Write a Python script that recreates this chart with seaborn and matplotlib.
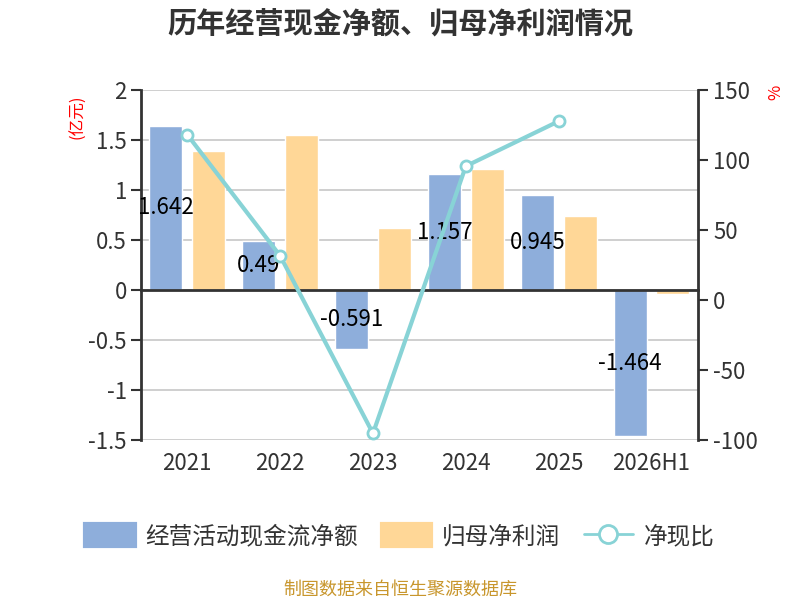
import numpy as np
import pandas as pd
import seaborn as sns
import matplotlib.pyplot as plt
from matplotlib.patches import Patch
from matplotlib.lines import Line2D

# Data
years = ['2021', '2022', '2023', '2024', '2025', '2026H1']
cash_flow = [1.642, 0.49, -0.591, 1.157, 0.945, -1.464]   # 经营活动现金流净额 (亿元)
net_profit = [1.39, 1.55, 0.62, 1.21, 0.74, -0.04]         # 归母净利润 (亿元)
cash_ratio = [118.1, 31.6, -95.3, 95.6, 127.7, np.nan]     # 净现比 (%)

blue = '#8eaedb'
orange = '#ffd797'
teal = '#88d3d6'
dark = '#333333'

sns.set_style('white')
plt.rcParams['font.family'] = ['Noto Sans CJK SC', 'DejaVu Sans']
plt.rcParams['axes.unicode_minus'] = False

df = pd.DataFrame({
    'year': years * 2,
    'value': cash_flow + net_profit,
    'kind': ['经营活动现金流净额'] * len(years) + ['归母净利润'] * len(years),
})

fig = plt.figure(figsize=(8, 6), dpi=100)
ax = fig.add_axes([0.176, 0.2667, 0.6965, 0.5833])

sns.barplot(data=df, x='year', y='value', hue='kind', palette=[blue, orange],
            saturation=1, width=0.92, gap=0.23, legend=False, ax=ax)

# labels in the middle of the cash flow bars
ax.bar_label(ax.containers[0], fmt='%g', label_type='center', fontsize=16, color='black')

ax.set_ylim(-1.5, 2)
ax.set_yticks(np.arange(-1.5, 2.01, 0.5))
ax.set_yticklabels(['%g' % v for v in np.arange(-1.5, 2.01, 0.5)])
ax.yaxis.grid(True, color='#cccccc', lw=1.3)
ax.set_axisbelow(True)
ax.set_xlabel('')
ax.set_ylabel('')
ax.spines['top'].set_visible(False)
ax.spines['right'].set_visible(False)
ax.spines['left'].set_color(dark)
ax.spines['left'].set_linewidth(2)
ax.spines['bottom'].set_position(('data', 0))
ax.spines['bottom'].set_color(dark)
ax.spines['bottom'].set_linewidth(2)
ax.tick_params(axis='y', length=7, width=1.5, pad=3, color=dark, labelsize=16,
               labelcolor=dark, direction='out')

# small ticks between categories on the zero line
ax.set_xticks(np.arange(-0.5, len(years), 1))
ax.set_xticklabels([])
ax.tick_params(axis='x', length=5, width=1.5, color=dark, direction='out')

# category names at the bottom of the plot area
sec = ax.secondary_xaxis('bottom')
sec.set_xticks(range(len(years)), years)
sec.tick_params(length=0, pad=9, labelsize=16, labelcolor=dark)
sec.spines['bottom'].set_visible(False)

# ratio line on the right axis
ax2 = ax.twinx()
sns.lineplot(x=np.arange(len(years)), y=cash_ratio, ax=ax2, color=teal, lw=3,
             marker='o', markersize=8, markerfacecolor='white',
             markeredgecolor=teal, markeredgewidth=2)
ax2.set_ylim(-100, 150)
ax2.set_yticks(np.arange(-100, 151, 50))
ax2.set_ylabel('')
ax2.grid(False)
for s in ['top', 'left', 'bottom']:
    ax2.spines[s].set_visible(False)
ax2.spines['right'].set_color(dark)
ax2.spines['right'].set_linewidth(2)
ax2.tick_params(axis='y', length=7, width=1.5, pad=4, color=dark, labelsize=16,
                labelcolor=dark, direction='out')

# keep the categorical range after the line plot autoscaled it
ax.set_xlim(-0.5, len(years) - 0.5)

fig.text(0.5, 1 - 23 / 600, '历年经营现金净额、归母净利润情况', ha='center', va='center',
         fontsize=21, fontweight='bold', color=dark)
fig.text(78 / 800, 1 - 117 / 600, '(亿元)', rotation=90, color='red', fontsize=12,
         ha='center', va='center')
fig.text(776 / 800, 1 - 92 / 600, '%', rotation=90, color='red', fontsize=12,
         ha='center', va='center')

handles = [
    Patch(facecolor=blue, edgecolor=blue, lw=3, joinstyle='round'),
    Patch(facecolor=orange, edgecolor=orange, lw=3, joinstyle='round'),
    Line2D([], [], color=teal, lw=2, marker='o', markersize=13,
           markerfacecolor='white', markeredgecolor=teal, markeredgewidth=2),
]
fig.legend(handles, ['经营活动现金流净额', '归母净利润', '净现比'], loc='center',
           bbox_to_anchor=(0.5, 1 - 536 / 600), ncol=3, frameon=False, fontsize=17,
           handlelength=2.1, handleheight=1.1, handletextpad=0.45, columnspacing=1.0,
           labelcolor=dark)

fig.text(0.5, 1 - 590 / 600, '制图数据来自恒生聚源数据库', ha='center', va='center',
         fontsize=13, color='#c8962c')

fig.savefig('out.png', dpi=100)
